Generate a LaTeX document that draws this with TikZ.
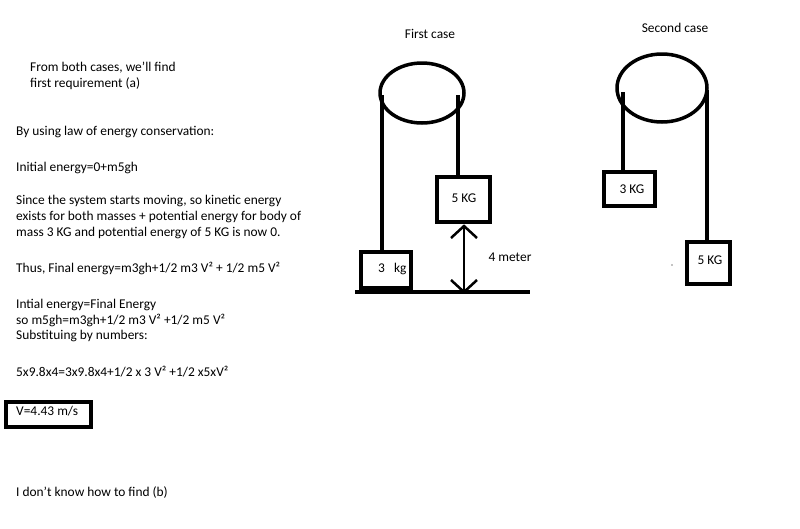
\documentclass[tikz,border=0pt]{standalone}
\usepackage{fontspec}
\setmainfont{Carlito}
\begin{document}
\begin{tikzpicture}[x=1pt,y=-1pt,
  txt/.style={anchor=west,inner sep=0pt,font=\fontsize{13.4}{15}\selectfont},
  thick4/.style={line width=3.5pt},
  massbox/.style={draw,line width=3.5pt}]
\useasboundingbox (0,0) rectangle (800,528);
\node[txt] (t1) at (30,68) {From both cases, we'll find};
\node[txt] (t2) at (30,84) {first requirement (a)};
\node[txt] (t3) at (16,132) {By using law of energy conservation:};
\node[txt] (t4) at (16,168) {Initial energy=0+m5gh};
\node[txt] (t5) at (16,201) {Since the system starts moving, so kinetic energy};
\node[txt] (t6) at (16,217) {exists for both masses + potential energy for body of};
\node[txt] (t7) at (16,233) {mass 3 KG and potential energy of 5 KG is now 0.};
\node[txt] (t8) at (16,268) {Thus, Final energy=m3gh+1/2 m3 V² + 1/2 m5 V²};
\node[txt] (t9) at (16,305) {Intial energy=Final Energy};
\node[txt] (t10) at (16,320) {so m5gh=m3gh+1/2 m3 V² +1/2 m5 V²};
\node[txt] (t11) at (16,336) {Substituing by numbers:};
\node[txt] (t12) at (16,372) {5x9.8x4=3x9.8x4+1/2 x 3 V² +1/2 x5xV²};
\draw[thick4] (6,402) rectangle (91,427);
\node[txt] (t13) at (16,411) {V=4.43 m/s};
\node[txt] (t14) at (16,493) {I don't know how to find (b)};
% first case
\node[txt,anchor=center] (fc) at (430,34) {First case};
\draw[thick4] (422,93) ellipse [x radius=42,y radius=30];
\draw[thick4] (382,95) -- (382,252);
\draw[thick4] (458,95) -- (458,177);
\draw[massbox] (361,252) rectangle (411,288);
\node[txt] (k3) at (378,269) {3\ \ \ kg};
\draw[massbox] (437,177) rectangle (490,222);
\node[txt,anchor=center] (k5) at (464,198) {5 KG};
\draw[thick4] (355,292) -- (530,292);
\draw[line width=2.5pt] (451,238) -- (464,226) -- (477,238);
\draw[line width=2.5pt] (451,280) -- (464,292) -- (477,280);
\draw[line width=2.5pt] (464,226) -- (464,292);
\node[txt,anchor=center] (m4) at (510,257) {4 meter};
% second case
\node[txt,anchor=center] (sc) at (675,28) {Second case};
\draw[thick4] (662,88) ellipse [x radius=45,y radius=34];
\draw[thick4] (623,92) -- (623,172);
\draw[thick4] (707,90) -- (707,242);
\draw[massbox] (604,172) rectangle (655,206);
\node[txt,anchor=center] (s3) at (632,189) {3 KG};
\draw[massbox] (687,242) rectangle (730,284);
\node[txt,anchor=center] (s5) at (710,260) {5 KG};
\fill (672,265) circle (0.6);
\end{tikzpicture}
\end{document}
